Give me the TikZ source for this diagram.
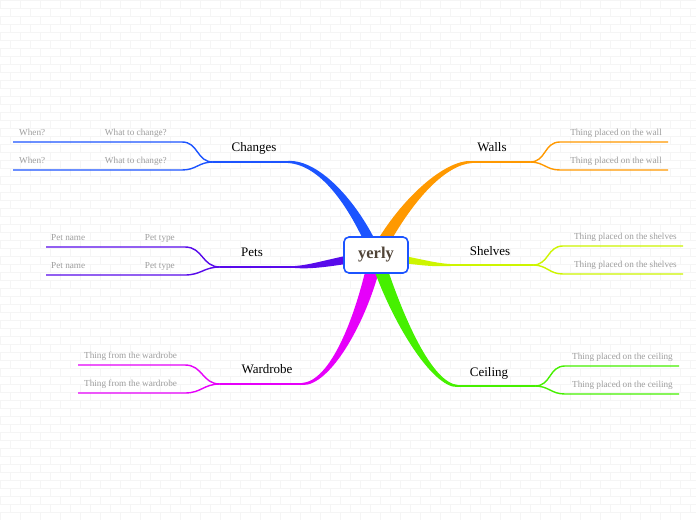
\documentclass[tikz,border=0pt]{standalone}
\usepackage{fontspec}
\setmainfont{Liberation Serif}
\usetikzlibrary{calc}

\definecolor{chgblue}{RGB}{28,84,255}
\definecolor{wallor}{RGB}{255,153,0}
\definecolor{shlyel}{RGB}{205,245,0}
\definecolor{ceilgr}{RGB}{70,240,0}
\definecolor{petvio}{RGB}{88,10,235}
\definecolor{wrdmag}{RGB}{230,0,250}
\definecolor{hubtext}{RGB}{80,68,56}

% tapered main branch: colour, c1, c2, end, start offset, c2 offset, end offset
\newcommand\bough[7]{\fill[#1] ($(ctr)+#5$) .. controls ($#2+#5$) and ($#3+#6$) .. ($(#4)+#7$) -- ($(#4)-#7$) .. controls ($#3-#6$) and ($#2-#5$) .. ($(ctr)-#5$) -- cycle;}

\tikzset{
  hub/.style={draw=chgblue,line width=1.6pt,fill=white,rounded corners=5pt,minimum width=64pt,minimum height=36pt,inner sep=0pt,text=hubtext,font=\fontsize{16.5}{18}\selectfont\bfseries},
  topic/.style={anchor=base,inner sep=0pt,font=\fontsize{13}{15}\selectfont},
  leaf/.style={inner sep=0pt,text=black!38,font=\fontsize{9.2}{11}\selectfont},
  stem/.style={line width=2pt},
  twig/.style={line width=1.4pt,looseness=1.15},
  brick/.style={draw=black!4,line width=.5pt}
}

\begin{document}
\begin{tikzpicture}[x=1pt,y=-1pt]
\fill[white] (0,0) rectangle (696,520);
\useasboundingbox (0,0) rectangle (696,520);
% brick wall
\foreach \r in {0,...,64} {
  \draw[brick] (0,\r*8) -- (696,\r*8);
  \pgfmathtruncatemacro\off{mod(\r,2)*10}
  \foreach \c in {0,20,...,700} \draw[brick] (\c+\off,\r*8) -- ++(0,8);
}

\coordinate (ctr) at (376,255);
\coordinate (chgE) at (288,162); \coordinate (chgJ) at (213,162);
\coordinate (wallE) at (472,162); \coordinate (wallJ) at (530,162);
\coordinate (shlE) at (450,265); \coordinate (shlJ) at (533,265);
\coordinate (ceilE) at (458,386); \coordinate (ceilJ) at (535,386);
\coordinate (petE) at (295,267); \coordinate (petJ) at (220,267);
\coordinate (wrdE) at (302,384); \coordinate (wrdJ) at (220,384);
\coordinate (chgA) at (13,142); \coordinate (chgB) at (13,170);
\coordinate (wallA) at (668,142); \coordinate (wallB) at (668,170);
\coordinate (shlA) at (683,246); \coordinate (shlB) at (683,274);
\coordinate (ceilA) at (679,366); \coordinate (ceilB) at (679,394);
\coordinate (petA) at (46,247); \coordinate (petB) at (46,275);
\coordinate (wrdA) at (78,365); \coordinate (wrdB) at (78,393);

% main branches
\bough{chgblue}{(355,205)}{(320,162)}{chgE}{(6,0)}{(0,-3)}{(0,-1)}
\bough{wallor}{(405,200)}{(445,162)}{wallE}{(7,0)}{(0,3)}{(0,1)}
\bough{wrdmag}{(362,320)}{(330,384)}{wrdE}{(7,0)}{(0,3)}{(0,1)}
\bough{ceilgr}{(396,318)}{(432,386)}{ceilE}{(7,0)}{(0,-3)}{(0,-1)}
\bough{petvio}{(335,261)}{(315,267)}{petE}{(0,4.5)}{(0,2.5)}{(0,1)}
\bough{shlyel}{(415,261)}{(432,265)}{shlE}{(0,4)}{(0,2)}{(0,1)}
\draw[stem,chgblue] (chgE) -- (chgJ);
\draw[stem,wallor] (wallE) -- (wallJ);
\draw[stem,shlyel] (shlE) -- (shlJ);
\draw[stem,ceilgr] (ceilE) -- (ceilJ);
\draw[stem,petvio] (petE) -- (petJ);
\draw[stem,wrdmag] (wrdE) -- (wrdJ);

% sub branches
\draw[twig,chgblue] (chgJ) to[out=180,in=0] ++(-31,-20) -- (chgA);
\draw[twig,chgblue] (chgJ) to[out=180,in=0] ++(-31,8) -- (chgB);
\draw[twig,wallor] (wallJ) to[out=0,in=180] ++(30,-20) -- (wallA);
\draw[twig,wallor] (wallJ) to[out=0,in=180] ++(30,8) -- (wallB);
\draw[twig,shlyel] (shlJ) to[out=0,in=180] ++(30,-19) -- (shlA);
\draw[twig,shlyel] (shlJ) to[out=0,in=180] ++(30,9) -- (shlB);
\draw[twig,ceilgr] (ceilJ) to[out=0,in=180] ++(30,-20) -- (ceilA);
\draw[twig,ceilgr] (ceilJ) to[out=0,in=180] ++(30,8) -- (ceilB);
\draw[twig,petvio] (petJ) to[out=180,in=0] ++(-35,-20) -- (petA);
\draw[twig,petvio] (petJ) to[out=180,in=0] ++(-35,8) -- (petB);
\draw[twig,wrdmag] (wrdJ) to[out=180,in=0] ++(-35,-19) -- (wrdA);
\draw[twig,wrdmag] (wrdJ) to[out=180,in=0] ++(-35,9) -- (wrdB);

\node[hub] (yerly) at (ctr) {yerly};
\node[topic] (chg) at (254,151) {Changes};
\node[topic] (wall) at (492,151) {Walls};
\node[topic] (shl) at (490,255) {Shelves};
\node[topic] (ceil) at (489,376) {Ceiling};
\node[topic] (pet) at (252,256) {Pets};
\node[topic] (wrd) at (267,373) {Wardrobe};

\node[leaf,anchor=base west] (chgA1) at (19,135) {When?};
\node[leaf,anchor=base east] (chgA2) at (167,135) {What to change?};
\node[leaf,anchor=base west] (chgB1) at (19,163) {When?};
\node[leaf,anchor=base east] (chgB2) at (167,163) {What to change?};
\node[leaf,anchor=base east] (wallA1) at (662,135) {Thing placed on the wall};
\node[leaf,anchor=base east] (wallB1) at (662,163) {Thing placed on the wall};
\node[leaf,anchor=base east] (shlA1) at (677,239) {Thing placed on the shelves};
\node[leaf,anchor=base east] (shlB1) at (677,267) {Thing placed on the shelves};
\node[leaf,anchor=base east] (ceilA1) at (673,359) {Thing placed on the ceiling};
\node[leaf,anchor=base east] (ceilB1) at (673,387) {Thing placed on the ceiling};
\node[leaf,anchor=base west] (petA1) at (51,240) {Pet name};
\node[leaf,anchor=base east] (petA2) at (175,240) {Pet type};
\node[leaf,anchor=base west] (petB1) at (51,268) {Pet name};
\node[leaf,anchor=base east] (petB2) at (175,268) {Pet type};
\node[leaf,anchor=base west] (wrdA1) at (84,358) {Thing from the wardrobe};
\node[leaf,anchor=base west] (wrdB1) at (84,386) {Thing from the wardrobe};
\end{tikzpicture}
\end{document}
